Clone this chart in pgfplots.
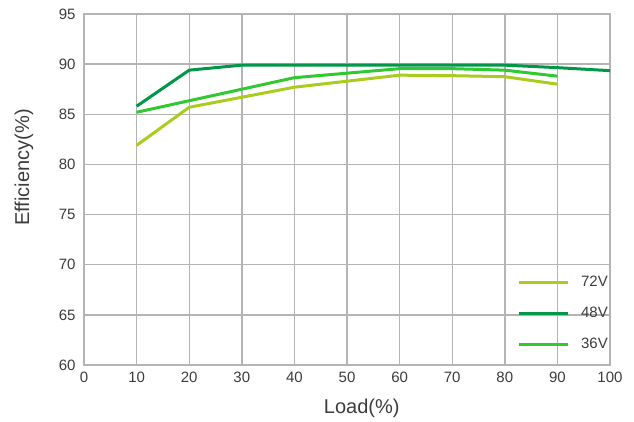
\documentclass[border=0pt]{standalone}
\usepackage{pgfplots}
\pgfplotsset{compat=1.18}
\usepackage{fontspec}
\setmainfont{Liberation Sans}

\definecolor{gridgray}{RGB}{180,180,180}
\definecolor{txtgray}{RGB}{60,60,60}
\definecolor{c72}{RGB}{170,204,30}
\definecolor{c48}{RGB}{0,152,72}
\definecolor{c36}{RGB}{50,200,50}

\begin{document}
\begin{tikzpicture}
    % page frame, 634 x 421
    \path (-84pt,-56pt) rectangle (550pt,365pt);
    \begin{axis}[
        scale only axis,
        width=526pt,
        height=351pt,
        xmin=0, xmax=100,
        ymin=60, ymax=95,
        xtick={0,10,...,100},
        ytick={60,65,...,95},
        grid=major,
        major grid style={gridgray, line width=1.4pt},
        axis line style={gridgray, line width=1.4pt},
        major tick length=0pt,
        /pgf/number format/assume math mode=true,
        ticklabel style={font=\fontsize{15}{17}\selectfont, text=txtgray},
        xticklabel style={yshift=-3pt},
        yticklabel style={xshift=-5pt},
        xlabel={Load(\%)},
        ylabel={Efficiency(\%)},
        label style={font=\fontsize{20}{24}\selectfont, text=txtgray},
        xlabel style={at={(axis description cs:0.528,-0.137)}, anchor=base},
        ylabel style={at={(axis description cs:-0.114,0.563)}, anchor=center},
        legend style={draw=none, fill=none, inner sep=0pt,
            at={(rel axis cs:0.823,0.259)}, anchor=north west,
            font=\fontsize{15}{17}\selectfont, text=txtgray,
            row sep=15pt},
        legend cell align=left,
        legend image code/.code={\draw[#1] (0pt,0pt) -- (49pt,0pt);},
        every axis plot/.append style={line width=3pt},
        clip=false
    ]
    \addplot[c72] coordinates {(10,81.9) (20,85.7) (30,86.7) (40,87.7) (50,88.3) (60,88.9) (70,88.85) (80,88.75) (90,88.0)};
    \addlegendentry{\hspace{10pt}72V}
    \addplot[c48] coordinates {(10,85.8) (20,89.4) (30,89.9) (40,89.9) (50,89.9) (60,89.9) (70,89.9) (80,89.9) (90,89.65) (100,89.35)};
    \addlegendentry{\hspace{10pt}48V}
    \addplot[c36] coordinates {(10,85.2) (20,86.35) (30,87.5) (40,88.65) (50,89.1) (60,89.55) (70,89.55) (80,89.4) (90,88.8)};
    \addlegendentry{\hspace{10pt}36V}
    \end{axis}
\end{tikzpicture}
\end{document}
